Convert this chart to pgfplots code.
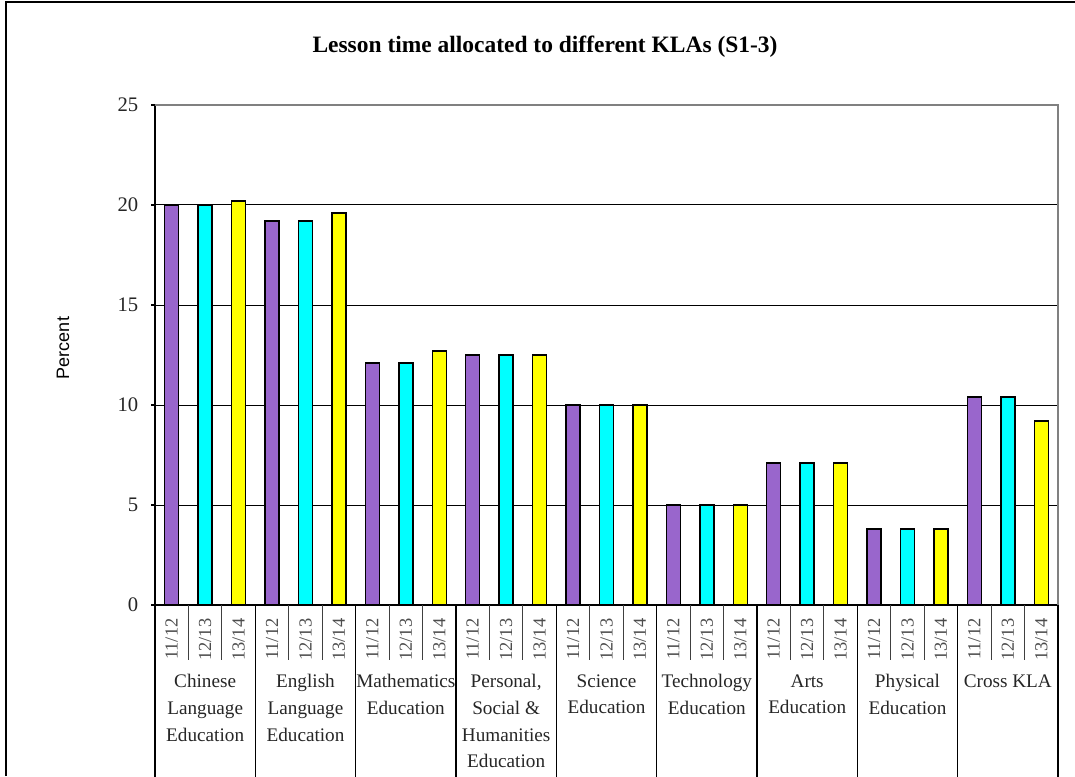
\documentclass[border=0pt]{standalone}
\usepackage{fontspec}
\setmainfont{Liberation Serif}
\newfontfamily\labelsans{Liberation Sans}
\usepackage{pgfplots}
\pgfplotsset{compat=1.18}

\definecolor{klapurple}{HTML}{9966CC}
\definecolor{klacyan}{HTML}{00FFFF}
\definecolor{klayellow}{HTML}{FFFF00}

% one bar per slot: slot 3g = 11/12, 3g+1 = 12/13, 3g+2 = 13/14
\pgfplotstableread{
x y
0 20.0
3 19.2
6 12.1
9 12.5
12 10.0
15 5.0
18 7.1
21 3.8
24 10.4
}\yrA
\pgfplotstableread{
x y
1 20.0
4 19.2
7 12.1
10 12.5
13 10.0
16 5.0
19 7.1
22 3.8
25 10.4
}\yrB
\pgfplotstableread{
x y
2 20.2
5 19.6
8 12.7
11 12.5
14 10.0
17 5.0
20 7.1
23 3.8
26 9.2
}\yrC

\tikzset{areaname/.style={anchor=north, inner sep=0pt, align=center, text=black!85,
        font=\fontsize{14.4}{20}\selectfont, yshift=-52pt}}

\begin{document}
\begin{tikzpicture}
% page area and outer frame
\useasboundingbox (0pt,0pt) rectangle (806.25pt,582pt);
\draw[line width=1.1pt] (4.5pt,0pt) -- (4.5pt,580.5pt) -- (806.25pt,580.5pt);

\node[font=\fontsize{17.6}{21}\selectfont\bfseries, anchor=center]
  at (408.75pt,546.75pt) {Lesson time allocated to different KLAs (S1-3)};

\node[font=\labelsans\fontsize{13.5}{16}\selectfont, rotate=90, anchor=center]
  at (47.25pt,321pt) {Percent};

\begin{axis}[
  at={(116.25pt,128.25pt)}, anchor=south west,
  scale only axis, width=677.25pt, height=375pt,
  xmin=-0.5, xmax=26.5, ymin=0, ymax=25,
  clip=false,
  axis x line*=bottom, axis y line*=left,
  axis line style={black, line width=0.8pt, -},
  ytick={0,5,...,25},
  ymajorgrids, grid style={black, line width=0.75pt},
  tick align=outside, major tick length=3pt,
  ytick style={black, line width=0.8pt},
  /pgf/number format/assume math mode=true,
  yticklabel style={font=\fontsize{15.5}{18}\selectfont, text=black!85, xshift=-6pt},
  xtick={0,...,26},
  xtick style={draw=none},
  xticklabels={11/12,12/13,13/14,11/12,12/13,13/14,11/12,12/13,13/14,
               11/12,12/13,13/14,11/12,12/13,13/14,11/12,12/13,13/14,
               11/12,12/13,13/14,11/12,12/13,13/14,11/12,12/13,13/14},
  xticklabel style={font=\fontsize{13.8}{16}\selectfont, text=black!70,
                    rotate=90, anchor=east, inner sep=0pt, xshift=-7pt},
  ybar, bar width=0.42,
  every axis plot/.append style={draw=black, line width=1.1pt, bar shift=0pt},
]
\addplot[fill=klapurple] table {\yrA};
\addplot[fill=klacyan] table {\yrB};
\addplot[fill=klayellow] table {\yrC};

% grey frame on top and right of the plot area
\draw[black!50, line width=1.2pt] (axis cs:-0.5,25) -- (axis cs:26.5,25) -- (axis cs:26.5,0);

% short dividers between years, long dividers between learning areas
\pgfplotsinvokeforeach{0.5,1.5,3.5,4.5,6.5,7.5,9.5,10.5,12.5,13.5,15.5,16.5,18.5,19.5,21.5,22.5,24.5,25.5}{
  \draw[black!75, line width=0.8pt] (axis cs:#1,0) -- ++(0pt,-41.25pt);
}
\pgfplotsinvokeforeach{-0.5,2.5,5.5,8.5,11.5,14.5,17.5,20.5,23.5,26.5}{
  \draw[black, line width=0.8pt] (axis cs:#1,0) -- ++(0pt,-130pt);
}

% learning area names
\node[areaname] at (axis cs:1,0) {Chinese\\Language\\Education};
\node[areaname] at (axis cs:4,0) {English\\Language\\Education};
\node[areaname] at (axis cs:7,0) {Mathematics\\Education};
\node[areaname] at (axis cs:10,0) {Personal,\\Social \&\\Humanities\\Education};
\node[areaname] at (axis cs:13,0) {Science\\Education};
\node[areaname] at (axis cs:16,0) {Technology\\Education};
\node[areaname] at (axis cs:19,0) {Arts\\Education};
\node[areaname] at (axis cs:22,0) {Physical\\Education};
\node[areaname] at (axis cs:25,0) {Cross KLA};
\end{axis}
\end{tikzpicture}
\end{document}
